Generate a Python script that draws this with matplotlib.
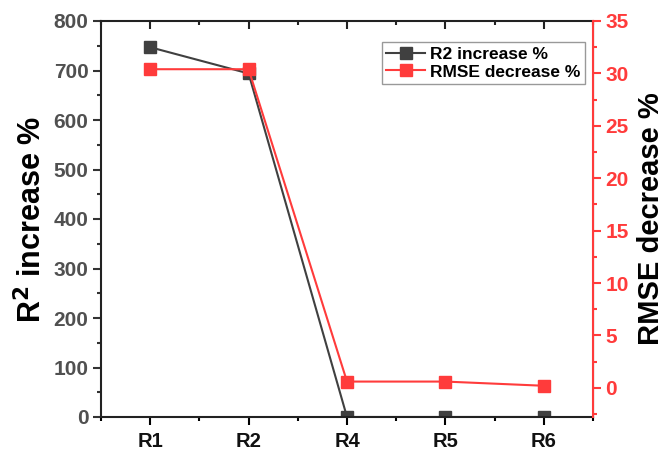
import matplotlib.pyplot as plt
from matplotlib.ticker import MultipleLocator
from matplotlib.lines import TICKDOWN

plt.rcParams['font.family'] = ['Liberation Sans', 'DejaVu Sans']
plt.rcParams['font.weight'] = 'bold'

runs = ["R1", "R2", "R4", "R5", "R6"]
r2_increase = [747, 694, 0, 0, 0]
rmse_decrease = [30.4, 30.4, 0.6, 0.6, 0.2]

dark = "#404040"
red = "#ff3b3b"

fig = plt.figure(figsize=(6.64, 4.51), dpi=100)
ax = fig.add_axes([101 / 664, 1 - 417 / 451, 492 / 664, 396 / 451])
ax2 = ax.twinx()

x = list(range(len(runs)))
half = [i + 0.5 for i in range(-1, 5)]

l1, = ax.plot(x, r2_increase, marker="s", markersize=9, color=dark, lw=1.5,
              label="R2 increase %")
l2, = ax2.plot(x, rmse_decrease, marker="s", markersize=9, color=red, lw=1.5,
               label="RMSE decrease %")

ax.set_xlim(-0.5, 4.5)
ax.set_ylim(0, 800)
ax2.set_ylim(-2.78, 35)
ax.set_xticks(x)
ax.set_xticklabels(runs)
ax.set_xticks(half, minor=True)
ax.yaxis.set_major_locator(MultipleLocator(100))
ax.yaxis.set_minor_locator(MultipleLocator(50))
ax2.yaxis.set_major_locator(MultipleLocator(5))
ax2.yaxis.set_minor_locator(MultipleLocator(2.5))

# inward tick marks along the top edge
top = ax.get_xaxis_transform()
ax.plot(x, [1] * len(x), ls="none", marker=TICKDOWN, markersize=6, mew=1.5,
        color="#222222", transform=top, clip_on=False)
ax.plot(half, [1] * len(half), ls="none", marker=TICKDOWN, markersize=3,
        mew=1.5, color="#222222", transform=top, clip_on=False)

for s in ["left", "bottom", "top"]:
    ax.spines[s].set_linewidth(1.5)
    ax.spines[s].set_color("#222222")
ax2.spines["right"].set_color(red)
ax2.spines["right"].set_linewidth(1.5)
for s in ["left", "bottom", "top"]:
    ax2.spines[s].set_visible(False)

ax.tick_params(axis="x", which="both", bottom=True, top=False, direction="out",
               labelsize=14.5, labelcolor="#111111", pad=5)
ax.tick_params(axis="x", which="major", length=6, width=1.5)
ax.tick_params(axis="x", which="minor", length=3, width=1.5)
ax.tick_params(axis="y", which="major", length=6, width=1.5, labelsize=15,
               labelcolor="#505050", color="#333333", pad=3)
ax.tick_params(axis="y", which="minor", length=3, width=1.5, color="#333333")
ax2.tick_params(axis="y", which="major", length=6, width=1.5, labelsize=15,
                colors=red, pad=3)
ax2.tick_params(axis="y", which="minor", length=3, width=1.5, colors=red)

ax.set_ylabel("R$^\\mathbf{2}$ increase %", fontsize=22, fontweight="bold",
              labelpad=4)
ax2.set_ylabel("RMSE decrease %", fontsize=21, fontweight="bold", labelpad=6)

leg = ax2.legend(handles=[l1, l2], loc="upper right",
                 bbox_to_anchor=(0.99, 0.955), fontsize=12.5, fancybox=False,
                 framealpha=1, edgecolor="#999999", handlelength=2.2,
                 borderpad=0.25, labelspacing=0.15, handletextpad=0.3,
                 borderaxespad=0.2)
leg.get_frame().set_linewidth(1.0)

fig.savefig("out.png", dpi=100)
